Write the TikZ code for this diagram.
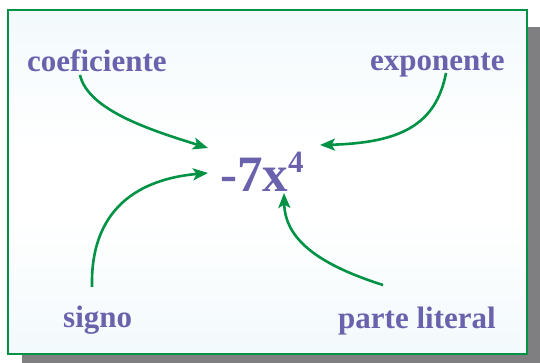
\documentclass[tikz,border=0pt]{standalone}
\usepackage{fontspec}
\setmainfont{Liberation Serif}
\usetikzlibrary{arrows.meta}
\definecolor{bordergreen}{HTML}{009245}
\definecolor{labelpurple}{HTML}{6A62AC}
\definecolor{bgblue}{HTML}{E3F2F8}
\definecolor{shadowgray}{HTML}{7F7F82}
\pgfdeclareverticalshading{panelshade}{100bp}{color(0bp)=(bgblue); color(45bp)=(white); color(55bp)=(white); color(100bp)=(bgblue)}
\begin{document}
\begin{tikzpicture}[x=1pt,y=-1pt,
  lbl/.style={inner sep=0pt, anchor=base west, text=labelpurple, font=\fontsize{31}{31}\selectfont\bfseries},
  termstyle/.style={inner sep=0pt, anchor=base west, text=labelpurple, font=\fontsize{51}{51}\selectfont\bfseries},
  arr/.style={draw=bordergreen, line width=2.6pt, -{Stealth[length=15pt,width=12pt,inset=3.5pt]}}]
\useasboundingbox (0,0) rectangle (540,363);
\clip (0,0) rectangle (540,363);
% shadow
\fill[shadowgray] (22,27) rectangle (545,370);
% panel
\shade[shading=panelshade] (8,10) rectangle (527,354);
\draw[bordergreen, line width=2.4pt] (8,10) rectangle (527,354);
% labels
\node[lbl] (coef) at (27,72) {coeficiente};
\node[lbl] (expo) at (370,71) {exponente};
\node[lbl] (signo) at (63,327) {signo};
\node[lbl] (parte) at (338,328) {parte literal};
\node[termstyle] (term) at (220,192) {-7x\raisebox{19pt}{\fontsize{31}{31}\selectfont 4}};
% connector ends
\coordinate (coefS) at (80,75);
\coordinate (coefT) at (208,148);
\coordinate (expoS) at (446,73);
\coordinate (expoT) at (320,145);
\coordinate (signoS) at (92,287);
\coordinate (signoT) at (208,173);
\coordinate (parteS) at (383,285);
\coordinate (parteT) at (284,193);
% connectors
\draw[arr] (coefS) .. controls (88,110) and (150,130) .. (coefT);
\draw[arr] (expoS) .. controls (436,125) and (400,143) .. (expoT);
\draw[arr] (signoS) .. controls (90,200) and (150,178) .. (signoT);
\draw[arr] (parteS) .. controls (320,265) and (285,240) .. (parteT);
\end{tikzpicture}
\end{document}
